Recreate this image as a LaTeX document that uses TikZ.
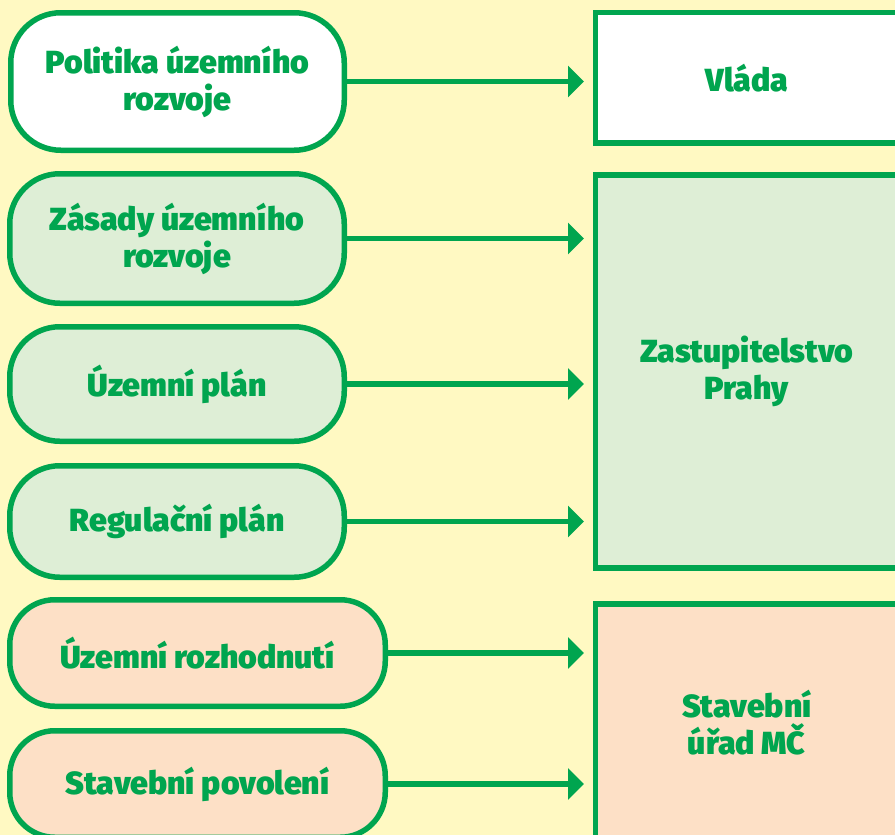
\documentclass[tikz,border=0pt]{standalone}
\usepackage{fontspec}
\newfontfamily\boxfont{Fira Sans Black}
\usetikzlibrary{arrows.meta}

\definecolor{zelena}{HTML}{00A54F}
\definecolor{podklad}{HTML}{FFF9C2}
\definecolor{svzelena}{HTML}{DEEED6}
\definecolor{broskev}{HTML}{FDE0C6}

\tikzset{
  krok/.style={draw=zelena, line width=5.5pt, rounded corners=50pt, align=center,
    text=zelena, font=\boxfont\fontsize{32}{37}\selectfont},
  organ/.style={draw=zelena, line width=5.5pt, align=center, minimum width=302.5pt,
    text=zelena, font=\boxfont\fontsize{32}{37}\selectfont},
}

\begin{document}
\begin{tikzpicture}[x=1pt, y=-1pt]
  \fill[podklad] (0,0) rectangle (895,835);
  \useasboundingbox (0,0) rectangle (895,835);

  % Documents
  \node[krok, fill=white, minimum width=333.5pt, minimum height=137.5pt] (politika) at (177.5,81.5) {Politika územního\\rozvoje};
  \node[krok, fill=svzelena, minimum width=334.5pt, minimum height=129.5pt] (zasady) at (177,238.5) {Zásady územního\\rozvoje};
  \node[krok, fill=svzelena, minimum width=334.5pt, minimum height=114.5pt] (uzplan) at (177,384) {Územní plán};
  \node[krok, fill=svzelena, minimum width=334.5pt, minimum height=111.5pt] (regplan) at (177,521.5) {Regulační plán};
  \node[krok, fill=broskev, minimum width=375.5pt, minimum height=106.5pt, rounded corners=45pt] (uzrozh) at (197.5,653) {Územní rozhodnutí};
  \node[krok, fill=broskev, minimum width=375.5pt, minimum height=106.5pt, rounded corners=45pt] (stavpov) at (197.5,784) {Stavební povolení};

  % Authorities
  \node[organ, fill=white, minimum height=130.5pt] (vlada) at (746.75,77.75) {Vláda};
  \node[organ, fill=svzelena, minimum height=393pt] (zastup) at (746.75,371.5) {Zastupitelstvo\\Prahy};
  \node[organ, fill=broskev, minimum height=238pt] (urad) at (746.75,723) {Stavební\\úřad MČ};

  % Arrows
  \path[color=zelena, line width=5.5pt, -{Triangle[length=16pt, width=31pt]}, shorten >=8.75pt]
    (politika.east) edge (politika.east -| vlada.west)
    (zasady.east) edge (zasady.east -| zastup.west)
    (uzplan.east) edge (uzplan.east -| zastup.west)
    (regplan.east) edge (regplan.east -| zastup.west)
    (uzrozh.east) edge (uzrozh.east -| urad.west)
    (stavpov.east) edge (stavpov.east -| urad.west);
\end{tikzpicture}
\end{document}
